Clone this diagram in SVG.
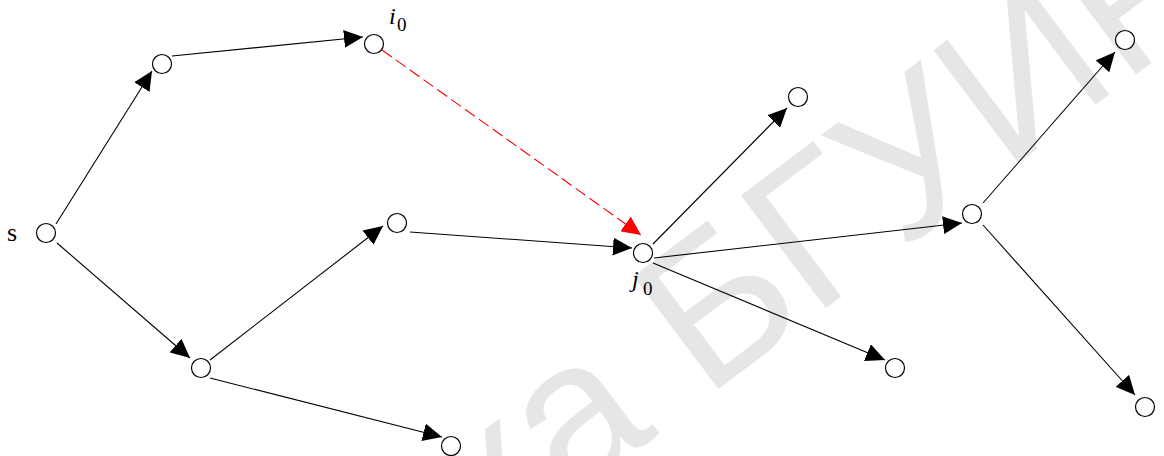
<svg xmlns="http://www.w3.org/2000/svg" width="1164" height="456" viewBox="0 0 1164 456">
<style>
.edge{stroke:#000;stroke-width:1.1;fill:none}
.red{stroke:#ff0000;stroke-width:1.1;fill:none;stroke-dasharray:12 5}
.node{fill:#fff;stroke:#000;stroke-width:1.2}
.lbl{font-family:"Liberation Serif",serif;fill:#000}
.wm{font-family:"Liberation Sans",Arial,sans-serif;font-size:205px;fill:#e6e6e6}
</style>
<defs>
<marker id="ah" markerUnits="userSpaceOnUse" markerWidth="20" markerHeight="18" refX="19" refY="9" orient="auto" viewBox="0 0 20 18">
<path d="M0,0 L19,9 L0,18 z" fill="#000"/>
</marker>
<marker id="ahr" markerUnits="userSpaceOnUse" markerWidth="20" markerHeight="18" refX="19" refY="9" orient="auto" viewBox="0 0 20 18">
<path d="M0,0 L19,9 L0,18 z" fill="#ff0000"/>
</marker>
</defs>
<rect width="1164" height="456" fill="#fff"/>
<text class="wm" text-anchor="end" transform="translate(1232,2) rotate(-37)">Библиотека БГУИР</text>
<g id="connectors">
<line class="edge" x1="56" y1="224" x2="152" y2="71" marker-end="url(#ah)"/>
<line class="edge" x1="172" y1="56" x2="363" y2="37" marker-end="url(#ah)"/>
<line class="edge" x1="57" y1="243" x2="190" y2="358" marker-end="url(#ah)"/>
<line class="edge" x1="210" y1="360" x2="383" y2="226" marker-end="url(#ah)"/>
<line class="edge" x1="210" y1="378" x2="442" y2="437" marker-end="url(#ah)"/>
<line class="edge" x1="410" y1="232" x2="632" y2="248" marker-end="url(#ah)"/>
<line class="red" x1="382" y1="50" x2="641" y2="235" marker-end="url(#ahr)"/>
<line class="edge" x1="653" y1="244" x2="787" y2="108" marker-end="url(#ah)"/>
<line class="edge" x1="653" y1="263" x2="885" y2="360" marker-end="url(#ah)"/>
<line class="edge" x1="654" y1="258" x2="962" y2="223" marker-end="url(#ah)"/>
<line class="edge" x1="983" y1="203" x2="1115" y2="52" marker-end="url(#ah)"/>
<line class="edge" x1="983" y1="225" x2="1135" y2="395" marker-end="url(#ah)"/>
</g>
<g id="node-s"><circle class="node" cx="46" cy="233" r="9.5"/><text class="lbl" x="7" y="241" font-size="26">s</text></g>
<g id="node-a"><circle class="node" cx="162" cy="64" r="9.5"/></g>
<g id="node-i0"><circle class="node" cx="374" cy="44" r="9.5"/><text class="lbl" x="389" y="24" font-size="24" font-style="italic">i</text><text class="lbl" x="397" y="31" font-size="19">0</text></g>
<g id="node-b"><circle class="node" cx="201" cy="368" r="9.5"/></g>
<g id="node-c"><circle class="node" cx="451" cy="446" r="9.5"/></g>
<g id="node-d"><circle class="node" cx="397" cy="223" r="9.5"/></g>
<g id="node-j0"><circle class="node" cx="643" cy="253" r="9.5"/><text class="lbl" x="632" y="287" font-size="24" font-style="italic">j</text><text class="lbl" x="643" y="295" font-size="19">0</text></g>
<g id="node-e"><circle class="node" cx="798" cy="97" r="9.5"/></g>
<g id="node-f"><circle class="node" cx="895" cy="368" r="9.5"/></g>
<g id="node-g"><circle class="node" cx="972" cy="214" r="9.5"/></g>
<g id="node-h"><circle class="node" cx="1125" cy="40" r="9.5"/></g>
<g id="node-i"><circle class="node" cx="1145" cy="407" r="9.5"/></g>
</svg>
